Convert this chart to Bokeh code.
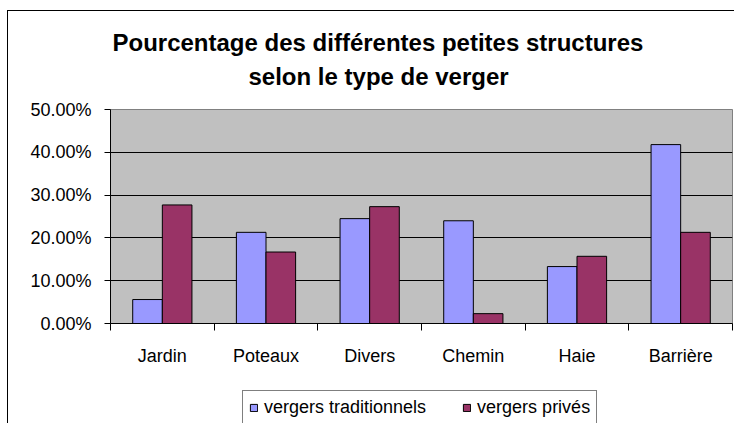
from bokeh.plotting import figure
from bokeh.layouts import column
from bokeh.models import (Range1d, LinearAxis, FixedTicker, NumeralTickFormatter, Legend,
                          LegendItem, Title, ColumnDataSource)
from bokeh.transform import dodge
from bokeh.embed import file_html
from bokeh.resources import INLINE

# ---- data ----
categories = ["Jardin", "Poteaux", "Divers", "Chemin", "Haie", "Barrière"]
vergers_traditionnels = [0.056, 0.213, 0.245, 0.240, 0.133, 0.418]
vergers_prives = [0.277, 0.167, 0.273, 0.023, 0.157, 0.213]
series_names = ["vergers traditionnels", "vergers privés"]
y_ticks = [0.0, 0.1, 0.2, 0.3, 0.4, 0.5]
title_lines = ["Pourcentage des différentes petites structures", "selon le type de verger"]

FONT = "Liberation Sans"
BAR_W = 1 / 3.5
TRAD_COLOR = "#9999FF"
PRIV_COLOR = "#993366"

n = len(categories)
centres = [i + 0.5 for i in range(n)]      # category slot centres on a 0..n axis
edges = list(range(n + 1))                 # category slot boundaries (tick marks)

source = ColumnDataSource(dict(x=centres, cat=categories,
                               trad=vergers_traditionnels, priv=vergers_prives))

p = figure(x_range=Range1d(0, n), y_range=Range1d(y_ticks[0], y_ticks[-1]),
           width=726, height=378, output_backend="svg", toolbar_location=None,
           x_axis_location=None, title=None,
           min_border_left=102, min_border_right=2, min_border_top=98, min_border_bottom=66,
           background_fill_color="#C0C0C0", border_fill_color="white",
           outline_line_color="#808080", outline_line_width=1)

p.vbar(x=dodge("x", -BAR_W / 2), top="trad", width=BAR_W, source=source,
       fill_color=TRAD_COLOR, line_color="black", line_width=1)
p.vbar(x=dodge("x", BAR_W / 2), top="priv", width=BAR_W, source=source,
       fill_color=PRIV_COLOR, line_color="black", line_width=1)

# y axis
p.yaxis.ticker = FixedTicker(ticks=y_ticks)
p.yaxis.formatter = NumeralTickFormatter(format="0.00%")
p.yaxis.major_label_text_font = FONT
p.yaxis.major_label_text_font_size = "18px"
p.yaxis.major_label_text_color = "black"
p.yaxis.major_tick_out = 6
p.yaxis.major_tick_in = 0
p.yaxis.minor_tick_line_color = None
p.yaxis.axis_line_color = "black"
p.yaxis.major_tick_line_color = "black"
p.yaxis.major_label_standoff = 13

p.ygrid.ticker = FixedTicker(ticks=y_ticks[1:-1])
p.ygrid.grid_line_color = "black"
p.ygrid.grid_line_width = 1
p.xgrid.grid_line_color = None

# x axis: tick marks on category boundaries, labels at category centres
edge_axis = LinearAxis(ticker=FixedTicker(ticks=edges),
                       major_label_overrides={e: "" for e in edges},
                       major_label_text_font_size="1px", major_label_standoff=0,
                       major_tick_out=7, major_tick_in=0, minor_tick_line_color=None,
                       axis_line_color="black", major_tick_line_color="black")
label_axis = LinearAxis(ticker=FixedTicker(ticks=centres),
                        major_label_overrides=dict(zip(centres, categories)),
                        axis_line_color=None, major_tick_line_color=None,
                        minor_tick_line_color=None,
                        major_tick_out=0, major_tick_in=0, major_label_standoff=15,
                        major_label_text_font=FONT, major_label_text_font_size="18px",
                        major_label_text_color="black")
p.add_layout(edge_axis, "below")
p.add_layout(label_axis, "below")

# title: spacer next to the frame, then line 2, then line 1 (panels stack outward)
p.add_layout(Title(text=" ", text_font_size="1px", standoff=15), "above")
p.add_layout(Title(text=title_lines[1], align="left", offset=138, standoff=4,
                   text_font=FONT, text_font_size="24px", text_font_style="bold",
                   text_color="black"), "above")
p.add_layout(Title(text=title_lines[0], align="left", offset=2, standoff=6,
                   text_font=FONT, text_font_size="24px", text_font_style="bold",
                   text_color="black"), "above")

# legend strip below the chart (its own small figure so the legend is not clipped)
LEG_H = 34
leg = figure(x_range=Range1d(0, n), y_range=Range1d(2, 3), width=726, height=LEG_H,
             output_backend="svg", toolbar_location=None, title=None,
             x_axis_location=None, y_axis_location=None,
             min_border_left=0, min_border_right=0, min_border_top=0, min_border_bottom=0,
             background_fill_color="white", border_fill_color="white",
             outline_line_color=None)
leg.xgrid.visible = False
leg.ygrid.visible = False
l1 = leg.vbar(x=dodge("x", -BAR_W / 2), top="trad", width=BAR_W, source=source,
              fill_color=TRAD_COLOR, line_color="black", line_width=1)
l2 = leg.vbar(x=dodge("x", BAR_W / 2), top="priv", width=BAR_W, source=source,
              fill_color=PRIV_COLOR, line_color="black", line_width=1)
legend = Legend(items=[LegendItem(label=series_names[0], renderers=[l1]),
                       LegendItem(label=series_names[1], renderers=[l2])],
                orientation="horizontal", location=(132, LEG_H - 36),
                glyph_width=9, glyph_height=9, label_standoff=6, spacing=36,
                padding=6, margin=0, label_text_font=FONT, label_text_font_size="18px",
                label_text_color="black", border_line_color="black", border_line_width=1,
                background_fill_color="white", background_fill_alpha=1)
leg.add_layout(legend)

layout = column(p, leg, spacing=0,
                styles={"margin-left": "7px", "margin-top": "10px",
                        "border-left": "1px solid black", "border-top": "1px solid black"})

open("out.html", "w").write(file_html(layout, INLINE))
